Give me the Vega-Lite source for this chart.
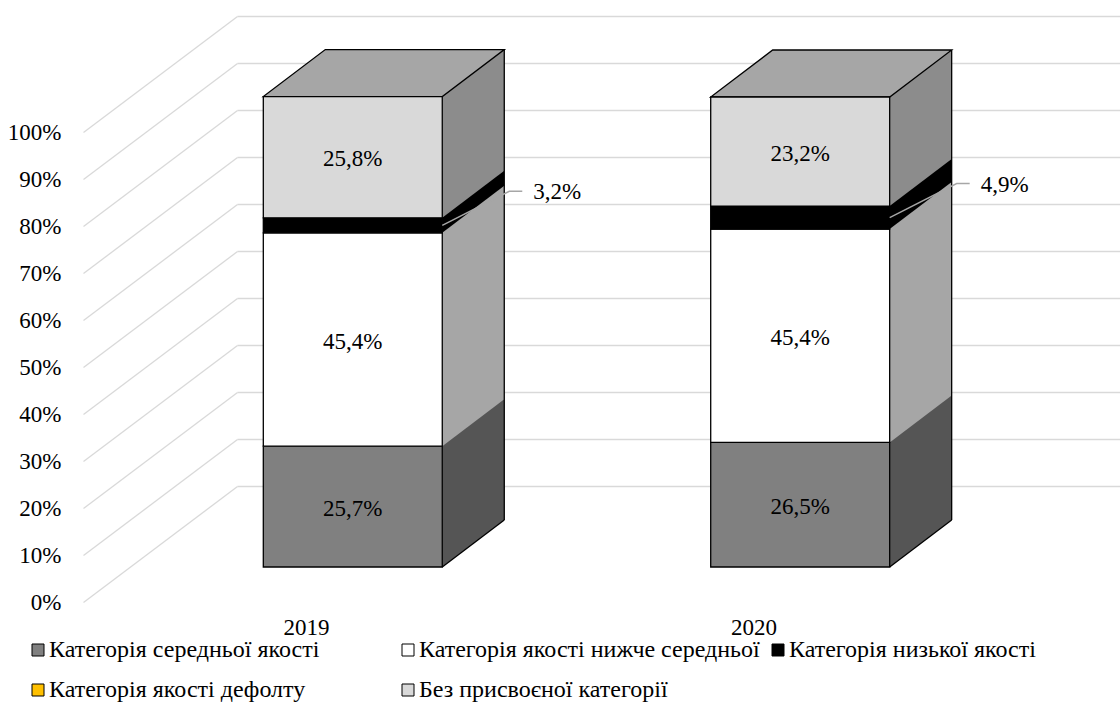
{
  "$schema": "https://vega.github.io/schema/vega-lite/v6.json",
  "autosize": {"type": "none"},
  "padding": {"left": 237, "top": 97, "right": 0, "bottom": 137},
  "width": 883,
  "height": 470,
  "background": "#ffffff",
  "config": {
    "font": "Liberation Serif",
    "view": {"stroke": null},
    "locale": {"number": {"decimal": ",", "thousands": " ", "grouping": [3], "currency": ["", ""]}}
  },
  "data": {
    "values": [
      {"year": "2019", "category": "Категорія середньої якості", "rank": 1, "value": 0.257},
      {"year": "2019", "category": "Категорія якості нижче середньої", "rank": 2, "value": 0.454},
      {"year": "2019", "category": "Категорія низької якості", "rank": 3, "value": 0.032},
      {"year": "2019", "category": "Без присвоєної категорії", "rank": 5, "value": 0.258},
      {"year": "2020", "category": "Категорія середньої якості", "rank": 1, "value": 0.265},
      {"year": "2020", "category": "Категорія якості нижче середньої", "rank": 2, "value": 0.454},
      {"year": "2020", "category": "Категорія низької якості", "rank": 3, "value": 0.049},
      {"year": "2020", "category": "Без присвоєної категорії", "rank": 5, "value": 0.232}
    ]
  },
  "transform": [
    {"stack": "value", "groupby": ["year"], "sort": [{"field": "rank", "order": "ascending"}], "as": ["v0", "v1"]}
  ],
  "layer": [
    {
      "description": "side faces: one block per segment, pushed back by the bar depth",
      "mark": {"type": "bar", "width": 62, "xOffset": 120.5, "yOffset": -47, "y2Offset": -47},
      "encoding": {
        "x": {
          "field": "year", "type": "nominal", "title": null,
          "scale": {"paddingInner": 0.6, "paddingOuter": 0.2868, "align": 0.1025},
          "axis": {"domain": false, "ticks": false, "tickSize": 0, "grid": false, "labelAngle": 0,
                   "labelOffset": -46.3, "labelPadding": 49, "labelFontSize": 23, "labelColor": "#000000",
                   "labelFont": "Liberation Serif"}
        },
        "y": {
          "field": "v0", "type": "quantitative", "title": null,
          "scale": {"domain": [0, 1], "nice": false},
          "axis": {
            "values": [0, 0.1, 0.2, 0.3, 0.4, 0.5, 0.6, 0.7, 0.8, 0.9, 1],
            "format": ".0%", "domain": false,
            "grid": true, "gridColor": "#d9d9d9", "gridWidth": 1.3,
            "ticks": true, "tickSize": 154, "tickColor": "#d9d9d9", "tickWidth": 1.3,
            "tickOffset": -81, "labelOffset": 116, "offset": 0, "labelPadding": 22,
            "labelFontSize": 23, "labelColor": "#000000", "labelFont": "Liberation Serif",
            "encoding": {"ticks": {"y2": {"value": {"signal": "scale('y', datum.value) + 35"}}}}
          }
        },
        "y2": {"field": "v1"},
        "color": {
          "field": "category", "type": "nominal", "legend": null,
          "scale": {
            "domain": ["Категорія середньої якості", "Категорія якості нижче середньої", "Категорія низької якості", "Без присвоєної категорії"],
            "range": ["#555555", "#a6a6a6", "#000000", "#8c8c8c"]
          }
        }
      }
    },
    {
      "description": "wedges that slant the side faces",
      "mark": {"type": "point", "shape": "M0,0L0,-48L62,-48L62,-47Z", "size": 4, "filled": true, "opacity": 1, "strokeWidth": 0},
      "encoding": {
        "x": {"field": "year", "type": "nominal", "bandPosition": 1, "title": null},
        "y": {"field": "v0", "type": "quantitative", "scale": {"domain": [0, 1], "nice": false}, "title": null},
        "color": {"field": "category", "type": "nominal", "legend": null}
      }
    },
    {
      "description": "back vertical edge of each column",
      "transform": [{"filter": "datum.category === 'Без присвоєної категорії'"}],
      "mark": {"type": "rule", "color": "#000000", "strokeWidth": 1.3, "xOffset": 62, "yOffset": -47, "y2Offset": -47},
      "encoding": {
        "x": {"field": "year", "type": "nominal", "bandPosition": 1, "title": null},
        "y": {"field": "v1", "type": "quantitative", "scale": {"domain": [0, 1], "nice": false}, "title": null},
        "y2": {"datum": 0}
      }
    },
    {
      "description": "bottom slanted edge of each column",
      "transform": [{"filter": "datum.category === 'Категорія середньої якості'"}],
      "mark": {"type": "point", "shape": "M0,0L62,-47", "size": 4, "filled": false, "opacity": 1, "color": "#000000", "strokeWidth": 1.3},
      "encoding": {
        "x": {"field": "year", "type": "nominal", "bandPosition": 1, "title": null},
        "y": {"field": "v0", "type": "quantitative", "scale": {"domain": [0, 1], "nice": false}, "title": null}
      }
    },
    {
      "description": "top face of each column",
      "transform": [{"filter": "datum.category === 'Без присвоєної категорії'"}],
      "mark": {"type": "point", "shape": "M0,0L179,0L241,-47L62,-47Z", "size": 4, "filled": true, "opacity": 1,
               "fill": "#a6a6a6", "stroke": "#000000", "strokeWidth": 1.3},
      "encoding": {
        "x": {"field": "year", "type": "nominal", "bandPosition": 0, "title": null},
        "y": {"field": "v1", "type": "quantitative", "scale": {"domain": [0, 1], "nice": false}, "title": null}
      }
    },
    {
      "description": "front faces",
      "mark": {"type": "bar", "stroke": "#000000", "strokeWidth": 1.3},
      "encoding": {
        "x": {"field": "year", "type": "nominal", "title": null},
        "y": {"field": "v0", "type": "quantitative", "scale": {"domain": [0, 1], "nice": false}, "title": null},
        "y2": {"field": "v1"},
        "fill": {
          "field": "category", "type": "nominal",
          "scale": {
            "domain": ["Категорія середньої якості", "Категорія якості нижче середньої", "Категорія низької якості", "Категорія якості дефолту", "Без присвоєної категорії"],
            "range": ["#808080", "#ffffff", "#000000", "#ffc000", "#d9d9d9"]
          },
          "legend": {
            "title": null, "orient": "none", "legendX": -211, "legendY": 541, "padding": 0,
            "direction": "horizontal", "columns": 3, "gridAlign": "all", "columnPadding": 6, "rowPadding": 16,
            "symbolType": "square", "symbolSize": 144, "symbolStrokeColor": "#000000", "symbolStrokeWidth": 1,
            "labelFont": "Liberation Serif", "labelFontSize": 24, "labelColor": "#000000", "labelLimit": 0, "labelOffset": -1
          }
        }
      }
    },
    {
      "description": "values inside the segments",
      "mark": {"type": "text", "fontSize": 23, "color": "#000000", "align": "center", "baseline": "middle", "dy": 2},
      "encoding": {
        "x": {"field": "year", "type": "nominal", "title": null},
        "y": {"field": "value", "type": "quantitative", "stack": "zero", "bandPosition": 0.5,
              "scale": {"domain": [0, 1], "nice": false}, "title": null},
        "detail": {"field": "category"},
        "order": {"field": "rank"},
        "text": {"field": "value", "type": "quantitative", "format": ".1%"},
        "opacity": {"condition": {"test": "datum.category !== 'Категорія низької якості'", "value": 1}, "value": 0}
      }
    },
    {
      "description": "leader lines for the thin segment",
      "mark": {"type": "point", "shape": "M0,0L67,-34L80,-34", "size": 4, "filled": false, "color": "#a6a6a6", "strokeWidth": 1.4},
      "encoding": {
        "x": {"field": "year", "type": "nominal", "bandPosition": 1, "title": null},
        "y": {"field": "value", "type": "quantitative", "stack": "zero", "bandPosition": 0.5,
              "scale": {"domain": [0, 1], "nice": false}, "title": null},
        "detail": {"field": "category"},
        "order": {"field": "rank"},
        "opacity": {"condition": {"test": "datum.category === 'Категорія низької якості'", "value": 1}, "value": 0}
      }
    },
    {
      "description": "callout values for the thin segment",
      "mark": {"type": "text", "fontSize": 23, "color": "#000000", "align": "left", "baseline": "middle", "dx": 91, "dy": -33},
      "encoding": {
        "x": {"field": "year", "type": "nominal", "bandPosition": 1, "title": null},
        "y": {"field": "value", "type": "quantitative", "stack": "zero", "bandPosition": 0.5,
              "scale": {"domain": [0, 1], "nice": false}, "title": null},
        "detail": {"field": "category"},
        "order": {"field": "rank"},
        "text": {"field": "value", "type": "quantitative", "format": ".1%"},
        "opacity": {"condition": {"test": "datum.category === 'Категорія низької якості'", "value": 1}, "value": 0}
      }
    }
  ]
}
